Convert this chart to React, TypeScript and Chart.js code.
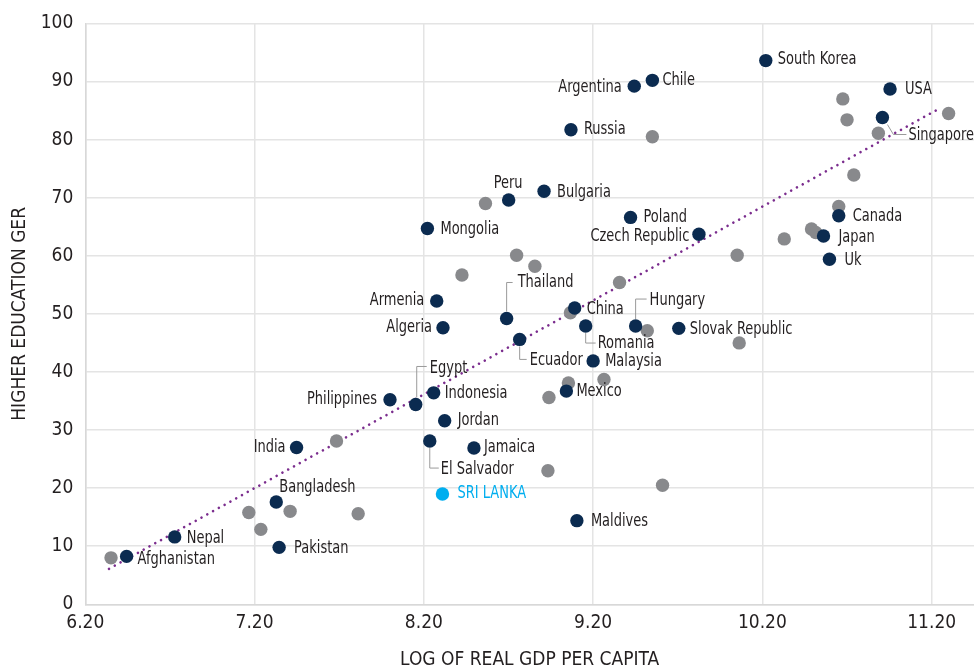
import React, { useEffect, useRef } from 'react';
import { Chart, registerables } from 'chart.js';

Chart.register(...registerables);

// ---------------- DATA ----------------
const xTicks = [6.2, 7.2, 8.2, 9.2, 10.2, 11.2];
const yTicks = [0, 10, 20, 30, 40, 50, 60, 70, 80, 90, 100];

const countryNames = [
  'Afghanistan', 'Nepal', 'Bangladesh', 'Pakistan', 'India', 'Philippines', 'Egypt',
  'Indonesia', 'Jordan', 'El Salvador', 'Jamaica', 'Maldives', 'Ecuador', 'Mexico',
  'Malaysia', 'Romania', 'Hungary', 'Thailand', 'China', 'Armenia', 'Algeria',
  'Slovak Republic', 'Mongolia', 'Peru', 'Bulgaria', 'Russia', 'Argentina', 'Chile',
  'Poland', 'Czech Republic', 'South Korea', 'USA', 'Singapore', 'Canada', 'Japan', 'Uk',
];
const countryGdp = [
  6.444, 6.728, 7.328, 7.345, 7.448, 8.0, 8.152,
  8.258, 8.323, 8.235, 8.496, 9.104, 8.766, 9.042,
  9.2, 9.156, 9.451, 8.689, 9.091, 8.276, 8.313,
  9.706, 8.221, 8.701, 8.91, 9.069, 9.443, 9.55,
  9.421, 9.825, 10.22, 10.954, 10.909, 10.651, 10.561, 10.596,
];
const countryGer = [
  8.25, 11.6, 17.6, 9.8, 27.0, 35.2, 34.4,
  36.4, 31.6, 28.1, 26.9, 14.4, 45.6, 36.7,
  41.9, 47.9, 47.9, 49.2, 51.0, 52.2, 47.6,
  47.5, 64.7, 69.6, 71.1, 81.7, 89.2, 90.2,
  66.6, 63.7, 93.6, 88.7, 83.8, 66.9, 63.4, 59.4,
];

const otherGdp = [
  6.352, 7.166, 7.237, 7.41, 7.684, 7.812, 8.425, 8.564, 8.748, 8.856,
  8.933, 8.939, 9.054, 9.066, 9.264, 9.356, 9.52, 9.55, 9.61, 10.051,
  10.063, 10.329, 10.49, 10.515, 10.651, 10.675, 10.7, 10.74, 10.885, 11.3,
];
const otherGer = [
  8.0, 15.8, 12.9, 16.0, 28.1, 15.6, 56.7, 69.0, 60.1, 58.2,
  23.0, 35.6, 38.1, 50.2, 38.7, 55.4, 47.1, 80.5, 20.5, 60.1,
  45.0, 62.9, 64.6, 64.0, 68.5, 87.0, 83.4, 73.9, 81.1, 84.5,
];

const focusName = ['SRI LANKA'];
const focusGdp = [8.31];
const focusGer = [19.0];

const trendGdp = [6.34, 11.23];
const trendGer = [6.1, 85.1];

// ---------------- STYLE / LABEL LAYOUT ----------------
const FONT = '"Liberation Sans Narrow", "DejaVu Sans Condensed", Roboto, sans-serif';
const TEXT = '#231f20';
const NAVY = '#0b2b50';
const GREY = '#88898c';
const CYAN = '#00aeef';
const PURPLE = '#7b2d8e';
const GRID = '#e4e4e4';
const LABEL_SQUEEZE = 0.85;

type Lay = { dx: number; dy: number; align: CanvasTextAlign; leader?: number[][] };
const labelLayout: Record<string, Lay> = {
  Afghanistan: { dx: 11, dy: 3, align: 'left' },
  Nepal: { dx: 12, dy: 2, align: 'left' },
  Bangladesh: { dx: 3, dy: -14, align: 'left' },
  Pakistan: { dx: 15, dy: 1, align: 'left' },
  India: { dx: -11, dy: 0, align: 'right' },
  Philippines: { dx: -13, dy: 0, align: 'right' },
  Egypt: { dx: 14, dy: -36, align: 'left', leader: [[1, -7], [1, -38], [11, -38]] },
  Indonesia: { dx: 11, dy: 1, align: 'left' },
  Jordan: { dx: 13, dy: 0, align: 'left' },
  'El Salvador': { dx: 11, dy: 29, align: 'left', leader: [[0, 7], [0, 27], [9, 27]] },
  Jamaica: { dx: 10, dy: 0, align: 'left' },
  'SRI LANKA': { dx: 15, dy: 0, align: 'left' },
  Maldives: { dx: 14, dy: 1, align: 'left' },
  Ecuador: { dx: 10, dy: 21, align: 'left', leader: [[0, 7], [0, 20], [7, 20]] },
  Mexico: { dx: 10, dy: 0, align: 'left' },
  Malaysia: { dx: 12, dy: 1, align: 'left' },
  Romania: { dx: 12, dy: 18, align: 'left', leader: [[0, 7], [0, 17], [10, 17]] },
  Thailand: { dx: 11, dy: -36, align: 'left', leader: [[0, -7], [0, -36], [6, -36]] },
  China: { dx: 12, dy: 1.5, align: 'left' },
  Hungary: { dx: 14, dy: -25, align: 'left', leader: [[0, -7], [0, -27], [11, -27]] },
  Armenia: { dx: -12.5, dy: 0, align: 'right' },
  Algeria: { dx: -11, dy: 0, align: 'right' },
  'Slovak Republic': { dx: 11, dy: 1, align: 'left' },
  Mongolia: { dx: 13, dy: 1, align: 'left' },
  Peru: { dx: -15, dy: -16, align: 'left' },
  Bulgaria: { dx: 13, dy: 1, align: 'left' },
  Russia: { dx: 13, dy: 0, align: 'left' },
  Argentina: { dx: -12.5, dy: 1, align: 'right' },
  Chile: { dx: 10, dy: 0, align: 'left' },
  Poland: { dx: 13, dy: 0, align: 'left' },
  'Czech Republic': { dx: -9.6, dy: 2, align: 'right' },
  'South Korea': { dx: 12, dy: -1, align: 'left' },
  USA: { dx: 15, dy: 1, align: 'left' },
  Singapore: { dx: 26, dy: 18, align: 'left', leader: [[5, 7], [11, 17], [24, 17]] },
  Canada: { dx: 14, dy: 1, align: 'left' },
  Japan: { dx: 15, dy: 2, align: 'left' },
  Uk: { dx: 15, dy: 1, align: 'left' },
};

const labelPlugin = {
  id: 'countryLabels',
  afterDatasetsDraw(chart: any) {
    const { ctx } = chart;
    const xs = chart.scales.x;
    const ys = chart.scales.y;
    ctx.save();
    ctx.font = `17px ${FONT}`;
    ctx.textBaseline = 'middle';
    const draw = (name: string, xv: number, yv: number, color: string) => {
      const lay = labelLayout[name];
      if (!lay) return;
      const px = xs.getPixelForValue(xv);
      const py = ys.getPixelForValue(yv);
      if (lay.leader) {
        ctx.beginPath();
        ctx.strokeStyle = '#9a9a9a';
        ctx.lineWidth = 1;
        lay.leader.forEach(([a, b], i) => {
          if (i === 0) ctx.moveTo(px + a, py + b);
          else ctx.lineTo(px + a, py + b);
        });
        ctx.stroke();
      }
      ctx.save();
      ctx.translate(px + lay.dx, py + lay.dy);
      ctx.scale(LABEL_SQUEEZE, 1);
      ctx.fillStyle = color;
      ctx.textAlign = lay.align;
      ctx.fillText(name, 0, 0);
      ctx.restore();
    };
    countryNames.forEach((n, i) => draw(n, countryGdp[i], countryGer[i], TEXT));
    focusName.forEach((n, i) => draw(n, focusGdp[i], focusGer[i], CYAN));
    ctx.restore();
  },
};

export default function App() {
  const ref = useRef<HTMLCanvasElement | null>(null);
  useEffect(() => {
    document.body.style.margin = '0';
    if (!ref.current) return;
    const toPts = (xa: number[], ya: number[]) => xa.map((v, i) => ({ x: v, y: ya[i] }));
    const chart = new Chart(ref.current, {
      type: 'scatter',
      data: {
        datasets: [
          {
            label: 'Trend',
            data: toPts(trendGdp, trendGer),
            showLine: true,
            borderColor: PURPLE,
            borderWidth: 2.6,
            borderDash: [0.01, 6.6],
            borderCapStyle: 'round',
            pointRadius: 0,
            order: 4,
          } as any,
          {
            label: 'Other',
            data: toPts(otherGdp, otherGer),
            backgroundColor: GREY,
            borderWidth: 0,
            pointRadius: 6.7,
            order: 3,
          },
          {
            label: 'Countries',
            data: toPts(countryGdp, countryGer),
            backgroundColor: NAVY,
            borderWidth: 0,
            pointRadius: 6.7,
            order: 2,
          },
          {
            label: 'Sri Lanka',
            data: toPts(focusGdp, focusGer),
            backgroundColor: CYAN,
            borderWidth: 0,
            pointRadius: 6.7,
            order: 1,
          },
        ],
      },
      options: {
        responsive: false,
        animation: false,
        layout: { autoPadding: false, padding: { top: 23, right: 0, left: 0, bottom: 0 } },
        plugins: { legend: { display: false }, tooltip: { enabled: false } },
        scales: {
          x: {
            type: 'linear',
            min: 6.2,
            max: 11.45,
            afterBuildTicks: (s: any) => {
              s.ticks = xTicks.map((v) => ({ value: v }));
            },
            afterFit: (s: any) => {
              s.height = 66.7;
              s.paddingRight = 0;
              s.paddingLeft = 0;
            },
            ticks: {
              callback: (v: any) => Number(v).toFixed(2),
              font: { family: FONT, size: 19 },
              color: TEXT,
              padding: 7,
              maxRotation: 0,
            },
            grid: { color: GRID, lineWidth: 1.5, drawTicks: false },
            border: { color: '#d8d8d8', width: 1.5 },
            title: {
              display: true,
              text: 'LOG OF REAL GDP PER CAPITA',
              font: { family: FONT, size: 19 },
              color: TEXT,
              padding: { top: 0, bottom: 0 },
            },
          },
          y: {
            type: 'linear',
            min: 0,
            max: 100,
            afterBuildTicks: (s: any) => {
              s.ticks = yTicks.map((v) => ({ value: v }));
            },
            afterFit: (s: any) => {
              s.width = 85.3;
            },
            ticks: {
              font: { family: FONT, size: 19 },
              color: TEXT,
              padding: 12,
            },
            grid: { color: GRID, lineWidth: 1.5, drawTicks: false },
            border: { color: '#d8d8d8', width: 1.5 },
            title: {
              display: true,
              text: 'HIGHER EDUCATION GER',
              font: { family: FONT, size: 19 },
              color: TEXT,
              padding: { top: 9, bottom: 0 },
            },
          },
        },
      },
      plugins: [labelPlugin],
    });
    return () => chart.destroy();
  }, []);
  return (
    <div style={{ width: 974, height: 671, position: 'relative' }}>
      <canvas ref={ref} width={974} height={671} style={{ display: 'block' }} />
    </div>
  );
}
